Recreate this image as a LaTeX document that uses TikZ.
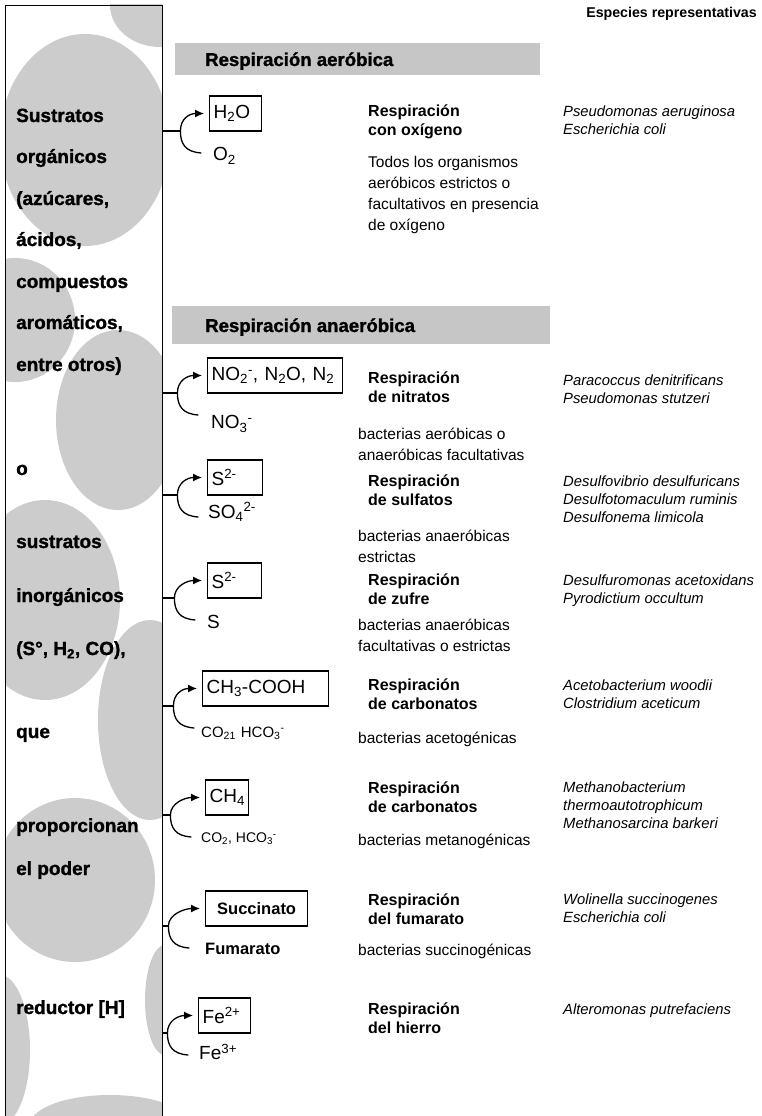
\documentclass[tikz,border=0pt]{standalone}
\usepackage{fontspec}
\setmainfont{Liberation Sans}
\newfontfamily\heavyfont{Liberation Sans}[BoldFeatures={FakeBold=1.3}]
\usetikzlibrary{arrows.meta,calc}
\newcommand\topst{\rule{0pt}{1em}}
\begin{document}
\begin{tikzpicture}[x=1pt,y=-1pt,
  lefttxt/.style={anchor=base west,inner sep=0pt,font=\fontsize{19}{22}\selectfont\heavyfont\bfseries},
  bartxt/.style={anchor=base west,inner sep=0pt,font=\fontsize{18.6}{22}\selectfont\heavyfont\bfseries},
  barfill/.style={fill=gray!45,draw=none},
  chembox/.style={draw,line width=1.3pt,anchor=west,minimum height=35pt,inner xsep=4pt,inner ysep=0pt,align=left,font=\fontsize{19}{22}\selectfont},
  lowlab/.style={anchor=west,inner sep=0pt,font=\fontsize{19}{22}\selectfont},
  smalllab/.style={anchor=west,inner sep=0pt,font=\fontsize{14}{16}\selectfont},
  ttl/.style={anchor=north west,inner sep=0pt,align=left,font=\fontsize{16}{19}\selectfont\bfseries},
  desc/.style={anchor=north west,inner sep=0pt,align=left,font=\fontsize{15.5}{21}\selectfont},
  species/.style={anchor=north west,inner sep=0pt,align=left,font=\fontsize{14.8}{18}\selectfont\itshape},
  conn/.style={line width=1.3pt},
  tip/.style={-{Latex[length=9pt,width=8pt]}},
  blob/.style={fill=gray!40,draw=none},
]
\useasboundingbox (0,0) rectangle (761,1116);
\fill[white] (0,0) rectangle (761,1116);

% left column background blobs
\begin{scope}
\clip (5,5) rectangle (162,1125);
\fill[blob] (160,5) ellipse [x radius=50, y radius=42];
\fill[blob] (85,140) ellipse [x radius=85, y radius=106];
\fill[blob] (15,320) ellipse [x radius=60, y radius=62];
\fill[blob] (118,420) ellipse [x radius=62, y radius=90];
\fill[blob] (45,600) ellipse [x radius=75, y radius=100];
\fill[blob] (150,720) ellipse [x radius=52, y radius=100];
\fill[blob] (75,880) ellipse [x radius=80, y radius=82];
\fill[blob] (165,1000) ellipse [x radius=20, y radius=55];
\fill[blob] (0,1050) ellipse [x radius=30, y radius=75];
\fill[blob] (110,1125) ellipse [x radius=80, y radius=30];
\end{scope}
\node[draw,line width=1.4pt,anchor=north west,minimum width=157pt,minimum height=1125pt,inner sep=0pt] (src) at (5,5) {};

% left column text
\node[lefttxt] (l1) at (16,122) {Sustratos};
\node[lefttxt] (l2) at (16,163) {orgánicos};
\node[lefttxt] (l3) at (16,205) {(azúcares,};
\node[lefttxt] (l4) at (16,246) {ácidos,};
\node[lefttxt] (l5) at (16,288) {compuestos};
\node[lefttxt] (l6) at (16,329) {aromáticos,};
\node[lefttxt] (l7) at (16,371) {entre otros)};
\node[lefttxt] (l8) at (16,475) {o};
\node[lefttxt] (l9) at (16,548) {sustratos};
\node[lefttxt] (l10) at (16,602) {inorgánicos};
\node[lefttxt] (l11) at (16,655) {(S°, H\textsubscript{2}, CO),};
\node[lefttxt] (l12) at (16,738) {que};
\node[lefttxt] (l13) at (16,832) {proporcionan};
\node[lefttxt] (l14) at (16,875) {el poder};
\node[lefttxt] (l15) at (16,1014) {reductor [H]};

% header
\node[anchor=base east,inner sep=0pt,font=\fontsize{14.2}{17}\selectfont\bfseries] (hdr) at (757,18) {Especies representativas};

% bars
\fill[barfill] (175,43) rectangle (540,75);
\node[bartxt] (bar1) at (205,66) {Respiración aeróbica};
\fill[barfill] (172,306) rectangle (550,344);
\node[bartxt] (bar2) at (205,332) {Respiración anaeróbica};

% row 1
\node[chembox,text width=44pt] (p1) at (209,113.5) {H\textsubscript{2}O};
\node[lowlab] (r1) at (213,156) {O\textsubscript{2}};
\node[ttl] (t1) at (368,100) {\topst Respiración\\con oxígeno};
\node[desc] (d1) at (368,152) {\topst Todos los organismos\\aeróbicos estrictos o\\facultativos en presencia\\de oxígeno};
\node[species] (s1) at (563,101.5) {\topst Pseudomonas aeruginosa\\Escherichia coli};

% row 2
\node[chembox,text width=127pt] (p2) at (207,375.5) {NO\textsubscript{2}\textsuperscript{-}, N\textsubscript{2}O, N\textsubscript{2}};
\node[lowlab] (r2) at (211,424) {NO\textsubscript{3}\textsuperscript{-}};
\node[ttl] (t2) at (368,367) {\topst Respiración\\de nitratos};
\node[desc] (d2) at (358,424) {\topst bacterias aeróbicas o\\anaeróbicas facultativas};
\node[species] (s2) at (563,370) {\topst Paracoccus denitrificans\\Pseudomonas stutzeri};

% row 3
\node[chembox,text width=47pt] (p3) at (207,477.5) {S\textsuperscript{2-}};
\node[lowlab] (r3) at (208,512) {SO\textsubscript{4}\textsuperscript{2-}};
\node[ttl] (t3) at (368,470) {\topst Respiración\\de sulfatos};
\node[desc] (d3) at (358,526) {\topst bacterias anaeróbicas\\estrictas};
\node[species] (s3) at (563,471.5) {\topst Desulfovibrio desulfuricans\\Desulfotomaculum ruminis\\Desulfonema limicola};

% row 4
\node[chembox,text width=46pt] (p4) at (207,580.5) {S\textsuperscript{2-}};
\node[lowlab] (r4) at (207,622) {S};
\node[ttl] (t4) at (368,569) {\topst Respiración\\de zufre};
\node[desc] (d4) at (358,615) {\topst bacterias anaeróbicas\\facultativas o estrictas};
\node[species] (s4) at (563,570.5) {\topst Desulfuromonas acetoxidans\\Pyrodictium occultum};

% row 5
\node[chembox,text width=118pt] (p5) at (202,688.5) {CH\textsubscript{3}-COOH};
\node[smalllab,font=\fontsize{15}{17}\selectfont] (r5) at (201,733) {CO\textsubscript{21}\hspace{5pt}HCO\textsubscript{3}\textsuperscript{-}};
\node[ttl] (t5) at (368,674) {\topst Respiración\\de carbonatos};
\node[desc] (d5) at (358,728) {\topst bacterias acetogénicas};
\node[species] (s5) at (563,675.5) {\topst Acetobacterium woodii\\Clostridium aceticum};

% row 6
\node[chembox,text width=35pt] (p6) at (205,797.5) {CH\textsubscript{4}};
\node[smalllab] (r6) at (201,839) {CO\textsubscript{2}, HCO\textsubscript{3}\textsuperscript{-}};
\node[ttl] (t6) at (368,777) {\topst Respiración\\de carbonatos};
\node[desc] (d6) at (358,830) {\topst bacterias metanogénicas};
\node[species] (s6) at (563,777.5) {\topst Methanobacterium\\thermoautotrophicum\\Methanosarcina barkeri};

% row 7
\node[chembox,text width=94pt,align=center,font=\fontsize{16.5}{20}\selectfont\bfseries] (p7) at (205,908.5) {Succinato};
\node[lowlab,font=\fontsize{16.5}{20}\selectfont\bfseries] (r7) at (205,949) {Fumarato};
\node[ttl] (t7) at (368,889) {\topst Respiración\\del fumarato};
\node[desc] (d7) at (358,940) {\topst bacterias succinogénicas};
\node[species] (s7) at (563,889.5) {\topst Wolinella succinogenes\\Escherichia coli};

% row 8
\node[chembox,text width=44pt] (p8) at (198,1015.5) {Fe\textsuperscript{2+}};
\node[lowlab] (r8) at (199,1052) {Fe\textsuperscript{3+}};
\node[ttl] (t8) at (368,998) {\topst Respiración\\del hierro};
\node[species] (s8) at (563,999.5) {\topst Alteromonas putrefaciens};

% connectors: tick from the source column, then a curved bracket
\foreach \T/\p/\j/\L in {131/p1/j1/17,393/p2/j2/14,495/p3/j3/14,598/p4/j4/11,706/p5/j5/10,815/p6/j6/7,926/p7/j7/5,1033/p8/j8/4}{
  \draw[conn] (src.east |- 0,\T) -- ++(\L,0) coordinate (\j);
  \draw[conn,tip] (\j) .. controls ($(\j)+(0,-12)$) and ($(\p.west)+(-20,0)$) .. ($(\p.west)+(-5,0)$);
  \draw[conn] (\j) .. controls ($(\j)+(0,13)$) and ($(\j)+(5,21)$) .. ($(\j)+(21,22)$);
}
\end{tikzpicture}
\end{document}
